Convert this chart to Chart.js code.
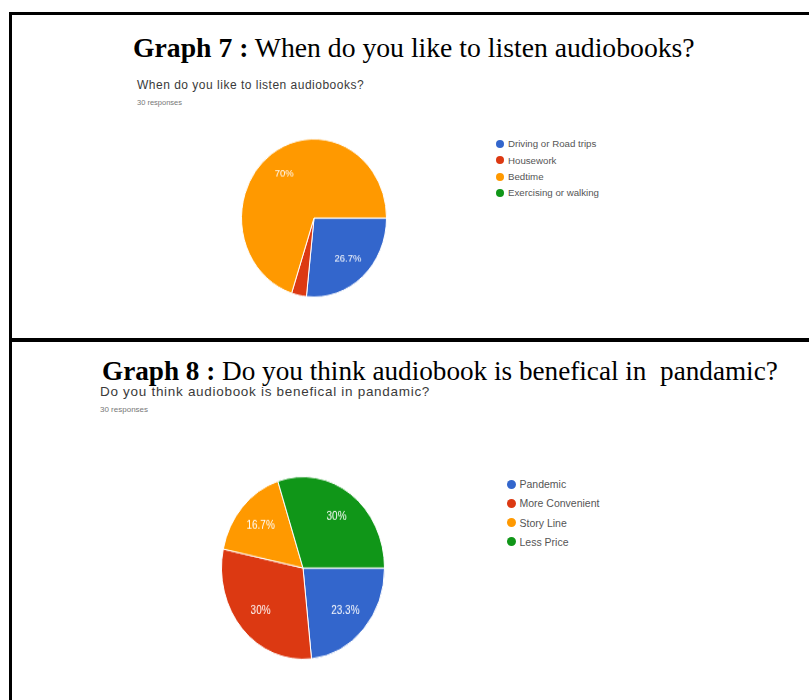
<!DOCTYPE html>
<html>
<head>
<meta charset="utf-8">
<script src="https://cdn.jsdelivr.net/npm/chart.js@4/dist/chart.umd.min.js"></script>
<style>
  html, body { margin: 0; padding: 0; background: #fff; }
  body { width: 809px; height: 700px; overflow: hidden; position: relative; font-family: Arial, "Liberation Sans", sans-serif; }
  .rule { position: absolute; background: #000; }
  .title { position: absolute; font-family: "Liberation Serif", "Times New Roman", serif; line-height: 1; white-space: pre; color: #000; }
  .title b { font-weight: bold; }
  .q { position: absolute; white-space: pre; color: #3a3a3a; }
  .resp { position: absolute; white-space: pre; color: #777; }
  .legend { position: absolute; color: #555; }
  .legend .item { display: flex; align-items: center; white-space: pre; }
  .legend .dot { border-radius: 50%; flex: none; }
  canvas { position: absolute; }
</style>
</head>
<body>
  <div class="rule" style="left:9px;top:12px;width:800px;height:3px"></div>
  <div class="rule" style="left:9px;top:12px;width:3px;height:688px"></div>
  <div class="rule" style="left:9px;top:338px;width:800px;height:4px"></div>

  <div class="title" style="left:133px;top:34px;font-size:27.7px"><b>Graph 7 :</b> When do you like to listen audiobooks?</div>
  <div class="q" style="left:137px;top:79px;font-size:12px;line-height:12px;letter-spacing:0.5px">When do you like to listen audiobooks?</div>
  <div class="resp" style="left:137px;top:98px;font-size:7.5px;line-height:10px">30 responses</div>

  <div class="title" style="left:102px;top:358px;font-size:27.2px"><b>Graph 8 :</b> Do you think audiobook is benefical in  pandamic?</div>
  <div class="q" style="left:100px;top:385px;font-size:13.5px;line-height:14px;letter-spacing:0.7px">Do you think audiobook is benefical in pandamic?</div>
  <div class="resp" style="left:100px;top:405px;font-size:8px;line-height:10px">30 responses</div>

  <canvas id="c1" width="146" height="146" style="left:241px;top:144.5px;transform:scaleY(1.09)"></canvas>
  <div id="l1" class="legend" style="left:496px;top:135.8px;font-size:9.7px"></div>

  <canvas id="c2" width="164" height="164" style="left:220.5px;top:486px;transform:scaleY(1.12)"></canvas>
  <div id="l2" class="legend" style="left:506.5px;top:474.4px;font-size:10.5px"></div>

<script>
// ---- data ----
const graph7Categories = ['Driving or Road trips', 'Housework', 'Bedtime', 'Exercising or walking'];
const graph7Responses  = [8, 1, 21, 0];          // 26.7%, 3.3%, 70%, 0%  (30 responses)
const graph8Categories = ['Pandemic', 'More Convenient', 'Story Line', 'Less Price'];
const graph8Responses  = [7, 9, 5, 9];           // 23.3%, 30%, 16.7%, 30% (30 responses)
const sliceColors = ['#3366cc', '#dc3912', '#ff9900', '#109618'];

function fmtPct(p) {
  const s = p.toFixed(1);
  return (s.endsWith('.0') ? s.slice(0, -2) : s) + '%';
}

const sliceLabels = {
  id: 'sliceLabels',
  afterDatasetsDraw(chart, args, opts) {
    const ctx = chart.ctx;
    const meta = chart.getDatasetMeta(0);
    const data = chart.data.datasets[0].data;
    const total = data.reduce((a, b) => a + b, 0);
    ctx.save();
    ctx.fillStyle = '#ffffff';
    ctx.font = opts.font;
    ctx.textAlign = 'center';
    ctx.textBaseline = 'middle';
    meta.data.forEach((arc, i) => {
      const pct = data[i] / total * 100;
      if (pct < 5) return;
      const p = arc.getProps(['x', 'y', 'startAngle', 'endAngle', 'outerRadius'], true);
      const mid = (p.startAngle + p.endAngle) / 2;
      const r = p.outerRadius * opts.factor;
      ctx.fillText(fmtPct(pct), p.x + Math.cos(mid) * r, p.y + Math.sin(mid) * r);
    });
    ctx.restore();
  }
};

function makePie(id, labels, values, labelFont) {
  return new Chart(document.getElementById(id), {
    type: 'pie',
    data: {
      labels: labels,
      datasets: [{
        data: values,
        backgroundColor: sliceColors,
        borderColor: '#ffffff',
        borderWidth: 1
      }]
    },
    options: {
      responsive: false,
      animation: false,
      rotation: 90,
      layout: { padding: 0 },
      plugins: {
        legend: { display: false },
        tooltip: { enabled: false },
        sliceLabels: { font: labelFont, factor: 0.7 }
      }
    },
    plugins: [sliceLabels]
  });
}

function htmlLegend(chart, elId, rowH, dotSize, gap) {
  const el = document.getElementById(elId);
  const items = Chart.overrides.pie.plugins.legend.labels.generateLabels(chart);
  items.forEach(it => {
    const row = document.createElement('div');
    row.className = 'item';
    row.style.height = rowH + 'px';
    const dot = document.createElement('span');
    dot.className = 'dot';
    dot.style.width = dotSize + 'px';
    dot.style.height = dotSize + 'px';
    dot.style.background = it.fillStyle;
    dot.style.marginRight = gap + 'px';
    const txt = document.createElement('span');
    txt.textContent = it.text;
    row.appendChild(dot);
    row.appendChild(txt);
    el.appendChild(row);
  });
}

const chart7 = makePie('c1', graph7Categories, graph7Responses, '9.5px Arial, "Liberation Sans", sans-serif');
const chart8 = makePie('c2', graph8Categories, graph8Responses, '10px Arial, "Liberation Sans", sans-serif');
htmlLegend(chart7, 'l1', 16.3, 8, 4);
htmlLegend(chart8, 'l2', 19.3, 9, 4);
</script>
</body>
</html>
